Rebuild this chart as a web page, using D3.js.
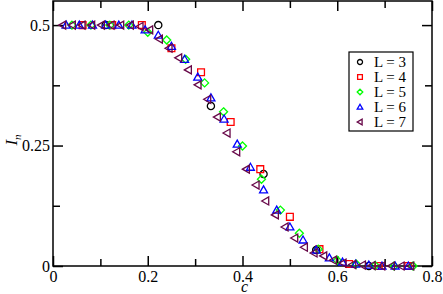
<!DOCTYPE html>
<html>
<head>
<meta charset="utf-8">
<script src="https://cdn.jsdelivr.net/npm/d3@7"></script>
<style>
  html, body { margin: 0; padding: 0; background: #fff; }
  svg { display: block; }
  svg text { font-family: "Liberation Serif", "DejaVu Serif", serif; }
</style>
</head>
<body>
<svg id="chart" width="443" height="294"></svg>
<script>
// ---- data (c = k / L^2) ----
const sizes = [3, 4, 5, 6, 7];
const seriesNames = ["L = 3", "L = 4", "L = 5", "L = 6", "L = 7"];
const I_L3 = [0.5, 0.5, 0.332, 0.191, 0.033, 0.0];
const I_L4 = [0.5, 0.5, 0.5, 0.452, 0.402, 0.299, 0.201, 0.102, 0.035, 0.004, 0.0, 0.0];
const I_L5 = [0.5, 0.5, 0.5, 0.5, 0.485, 0.469, 0.429, 0.380, 0.320, 0.249, 0.180, 0.116, 0.068, 0.035, 0.012, 0.004, 0.001, 0.0, 0.0];
const I_L6 = [0.5, 0.5, 0.5, 0.5, 0.5, 0.5, 0.49, 0.479, 0.456, 0.429, 0.392, 0.349, 0.305, 0.253, 0.205, 0.158, 0.116, 0.081, 0.054, 0.033, 0.017, 0.008, 0.004, 0.002, 0.0, 0.0, 0.0];
const I_L7 = [0.5, 0.5, 0.5, 0.5, 0.5, 0.5, 0.5, 0.5, 0.497, 0.49, 0.471, 0.452, 0.432, 0.407, 0.376, 0.346, 0.309, 0.276, 0.237, 0.201, 0.168, 0.135, 0.106, 0.081, 0.058, 0.039, 0.027, 0.021, 0.012, 0.006, 0.003, 0.002, 0.001, 0.0, 0.0, 0.0, 0.0];
const xTicks = [0, 0.2, 0.4, 0.6, 0.8];
const xTickLabels = ["0", "0.2", "0.4", "0.6", "0.8"];
const xMinor = [0.1, 0.3, 0.5, 0.7];
const yTicks = [0, 0.25, 0.5];
const yTickLabels = ["0", "0.25", "0.5"];
const yMinor = [0.125, 0.375];
const colors = ["#000000", "#ff0000", "#00ff00", "#0000ff", "#670748"];
const symbols = ["circle", "square", "diamond", "triUp", "triLeft"];

const allI = [I_L3, I_L4, I_L5, I_L6, I_L7];
const series = sizes.map((L, i) => ({
  name: seriesNames[i], color: colors[i], symbol: symbols[i],
  points: allI[i].map((v, k) => ({ c: (k + 1) / (L * L), I: v }))
}));

// ---- layout ----
const svg = d3.select("#chart");
const x = d3.scaleLinear().domain([0, 0.8]).range([53, 432]);
const y = d3.scaleLinear().domain([0, 0.55]).range([266, 1]);
const serif = "'Liberation Serif', 'DejaVu Serif', serif";

function symPath(type, s) {
  switch (type) {
    case "circle": {
      const r = s * 0.9;
      return `M${r},0A${r},${r} 0 1,1 ${-r},0A${r},${r} 0 1,1 ${r},0Z`;
    }
    case "square": {
      const h = s * 0.85;
      return `M${-h},${-h}H${h}V${h}H${-h}Z`;
    }
    case "diamond":
      return `M0,${-s}L${s},0L0,${s}L${-s},0Z`;
    case "triUp":
      return `M0,${-s}L${s},${s * 0.75}L${-s},${s * 0.75}Z`;
    case "triLeft":
      return `M${-s},0L${s * 0.75},${-s}L${s * 0.75},${s}Z`;
  }
}

const x0 = x.range()[0], x1 = x.range()[1], y0 = y.range()[0], y1 = y.range()[1];
svg.append("rect").attr("x", x0).attr("y", y1).attr("width", x1 - x0).attr("height", y0 - y1)
  .attr("fill", "none").attr("stroke", "#000").attr("stroke-width", 1.5);

function styleAxis(g) {
  g.attr("font-family", null);
  g.select(".domain").remove();
  g.selectAll("line").attr("stroke", "#000").attr("stroke-width", 1.5);
  g.selectAll("text").style("font-family", serif).attr("font-size", 16).attr("fill", "#000");
}
svg.append("g").attr("transform", `translate(0,${y0})`)
  .call(d3.axisBottom(x).tickValues(xTicks).tickSize(-10).tickPadding(5)
    .tickFormat((d, i) => xTickLabels[i]))
  .call(styleAxis);
svg.append("g").attr("transform", `translate(0,${y0})`)
  .call(d3.axisBottom(x).tickValues(xMinor).tickSize(-7).tickFormat(""))
  .call(styleAxis);
svg.append("g").attr("transform", `translate(0,${y1})`)
  .call(d3.axisTop(x).tickValues(xTicks).tickSize(-10).tickFormat(""))
  .call(styleAxis);
svg.append("g").attr("transform", `translate(0,${y1})`)
  .call(d3.axisTop(x).tickValues(xMinor).tickSize(-7).tickFormat(""))
  .call(styleAxis);
svg.append("g").attr("transform", `translate(${x0},0)`)
  .call(d3.axisLeft(y).tickValues(yTicks).tickSize(-10).tickPadding(3)
    .tickFormat((d, i) => yTickLabels[i]))
  .call(styleAxis);
svg.append("g").attr("transform", `translate(${x0},0)`)
  .call(d3.axisLeft(y).tickValues(yMinor).tickSize(-7).tickFormat(""))
  .call(styleAxis);
svg.append("g").attr("transform", `translate(${x1},0)`)
  .call(d3.axisRight(y).tickValues(yTicks).tickSize(-10).tickFormat(""))
  .call(styleAxis);
svg.append("g").attr("transform", `translate(${x1},0)`)
  .call(d3.axisRight(y).tickValues(yMinor).tickSize(-7).tickFormat(""))
  .call(styleAxis);

// axis titles
svg.append("text").attr("x", (x0 + x1) / 2 + 2).attr("y", 292)
  .attr("text-anchor", "middle").style("font-family", serif).attr("font-style", "italic")
  .attr("font-size", 16).text("c");
const yl = svg.append("text").attr("transform", "translate(17,140) rotate(-90)")
  .attr("text-anchor", "middle").style("font-family", serif).attr("font-style", "italic")
  .attr("font-size", 17);
yl.append("tspan").text("I");
yl.append("tspan").attr("font-size", 11).attr("dy", 4).text("n");

// data
series.forEach(s => {
  svg.append("g").selectAll("path").data(s.points).join("path")
    .attr("d", symPath(s.symbol, 4))
    .attr("transform", d => `translate(${x(d.c)},${y(d.I)})`)
    .attr("fill", "none").attr("stroke", s.color).attr("stroke-width", 1.3);
});

// legend
const lg = svg.append("g");
lg.append("rect").attr("x", 349).attr("y", 52).attr("width", 64).attr("height", 79)
  .attr("fill", "#fff").attr("stroke", "#000").attr("stroke-width", 1.2);
series.forEach((s, i) => {
  const cy = 62 + i * 15;
  lg.append("path").attr("d", symPath(s.symbol, 2.8))
    .attr("transform", `translate(360,${cy})`)
    .attr("fill", "none").attr("stroke", s.color).attr("stroke-width", 1.3);
  lg.append("text").attr("x", 374).attr("y", cy + 5)
    .style("font-family", serif).attr("font-size", 15).text(s.name);
});
</script>
</body>
</html>
